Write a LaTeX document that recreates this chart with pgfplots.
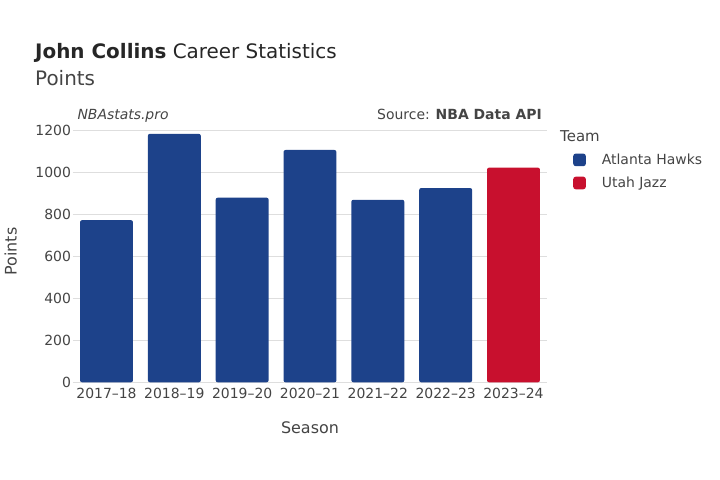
\documentclass[border=0pt]{standalone}
\usepackage{fontspec}
\setmainfont{DejaVu Sans}
\usepackage{pgfplots}
\pgfplotsset{compat=1.18}
\definecolor{hawks}{RGB}{29,66,138}
\definecolor{jazz}{RGB}{200,16,46}
\definecolor{txt}{RGB}{68,68,68}
\definecolor{gridc}{RGB}{222,222,222}
\begin{document}
\begin{tikzpicture}
\path (0bp,0bp) rectangle (720bp,480bp);
% titles
\node[anchor=base west, inner sep=0pt, text=black!85, font=\fontsize{20}{24}\selectfont] at (35bp,421bp) {\textbf{John Collins} Career Statistics};
\node[anchor=base west, inner sep=0pt, text=txt, font=\fontsize{20}{24}\selectfont] at (35bp,394bp) {Points};
\node[anchor=base west, inner sep=0pt, text=txt, font=\fontsize{14}{17}\itshape] at (77.3bp,360bp) {NBAstats.pro};
\node[anchor=base east, inner sep=0pt, text=txt, font=\fontsize{14}{17}\selectfont] at (542bp,360bp) {Source: \textbf{NBA Data API}};
\node[anchor=base west, inner sep=0pt, text=txt, font=\fontsize{15}{18}\selectfont] at (560bp,338.3bp) {Team};
\begin{axis}[
  at={(72.6bp,97.7bp)}, anchor=south west,
  scale only axis, width=474.8bp, height=261.5bp,
  ybar, bar width=0.78, bar shift=0pt,
  xmin=-0.5, xmax=6.5, ymin=0, ymax=1245,
  xtick={0,...,6},
  xticklabels={2017–18,2018–19,2019–20,2020–21,2021–22,2022–23,2023–24},
  ytick={0,200,...,1200},
  ymajorgrids, grid style={gridc, line width=1bp},
  axis line style={draw=none}, major tick length=0pt,
  tick label style={font=\fontsize{14}{16}\selectfont, text=txt},
  /pgf/number format/assume math mode=true,
  /pgf/number format/1000 sep={},
  yticklabel style={anchor=east, inner sep=0pt, xshift=-1.5bp},
  xticklabel style={anchor=north, inner sep=0pt, yshift=-6bp},
  xlabel={Season}, ylabel={Points},
  label style={font=\fontsize{16}{19}\selectfont, text=txt},
  xlabel style={at={(axis description cs:0.5,0)}, anchor=base, yshift=-50.7bp, inner sep=0pt},
  ylabel style={at={(axis description cs:0,0.5)}, anchor=base, yshift=56bp, inner sep=0pt},
  legend style={at={(1.054,0.882)}, anchor=north west, draw=none, fill=none,
    font=\fontsize{14}{16}\selectfont, text=txt, inner sep=0pt, row sep=7bp,
    /tikz/every odd column/.append style={column sep=14bp}},
  legend cell align=left,
  legend image code/.code={\path[#1, draw=none, rounded corners=2.5bp] (0bp,-6.3bp) rectangle (12.6bp,6.3bp);},
  every axis plot/.append style={rounded corners=2bp, draw=none},
]
\addplot[fill=hawks] coordinates {(0,772) (1,1183) (2,879) (3,1106) (4,869) (5,925)};
\addplot[fill=jazz] coordinates {(6,1022)};
\legend{Atlanta Hawks, Utah Jazz}
\end{axis}
\end{tikzpicture}
\end{document}
